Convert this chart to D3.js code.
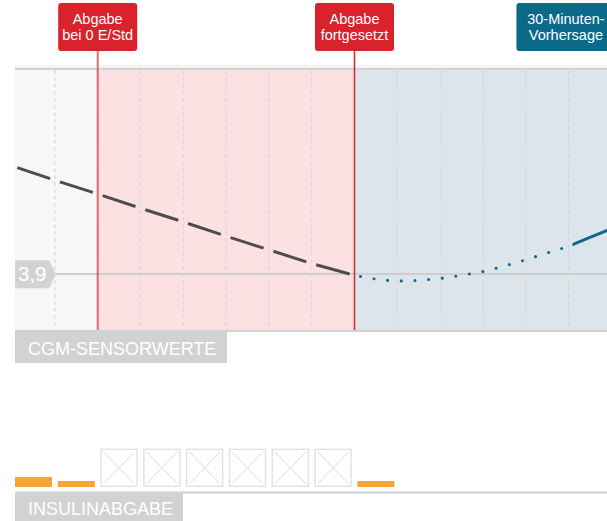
<!DOCTYPE html>
<html><head><meta charset="utf-8">
<script src="https://cdn.jsdelivr.net/npm/d3@7"></script>
<style>
body{margin:0;background:#fff}
svg{display:block}
text{font-family:"Liberation Sans",Arial,Helvetica,sans-serif}
</style></head>
<body><svg id="c" width="607" height="521"></svg>
<script>
// ---- data ----
const gridTimes = [-5, 0, 5, 10, 15, 20, 25, 30, 35, 40, 45, 50, 55];
const cgmTimes = [-10, -5, 0, 5, 10, 15, 20, 25, 30];
const cgmValues = [5.64, 5.41, 5.19, 4.96, 4.74, 4.51, 4.29, 4.07, 3.88];
const forecastTimes = [30, 32.5, 35, 37.5, 40, 42.5, 45, 47.5, 50, 52.5, 55, 57.5, 60];
const forecastValues = [3.88, 3.82, 3.79, 3.80, 3.83, 3.88, 3.94, 4.03, 4.13, 4.24, 4.35, 4.49, 4.63];
const thresholdValue = 3.9;
const thresholdLabel = "3,9";
const zoneBounds = [-10, 0, 30, 60];           // history | suspended | forecast
const eventTimes = [0, 30];
const eventLabels = [["Abgabe", "bei 0 E/Std"], ["Abgabe", "fortgesetzt"]];
const forecastLabel = ["30-Minuten-", "Vorhersage"];
const forecastLabelTime = 54.7;
const insulinStarts = [-10, -5, 0, 5, 10, 15, 20, 25, 30];
const insulinRates = [0.5, 0.3, null, null, null, null, null, null, 0.3]; // null = suspended
const cgmTitle = "CGM-SENSORWERTE";
const insulinTitle = "INSULINABGABE";

// ---- layout ----
const W = 607, H = 521;
const chartLeft = 15, chartTop = 70, chartBottom = 330;
const x = d3.scaleLinear().domain([-10, 60]).range([12.1, 611.3]);
const y = d3.scaleLinear().domain([3, 7.2]).range([chartBottom, 69]);
const ins = d3.scaleLinear().domain([0, 1]).range([0, 20]);
const RED = "#d9222b", BLUE = "#0b6a8a";

const svg = d3.select("#c");
const defs = svg.append("defs");
defs.append("clipPath").attr("id", "chart").append("rect")
  .attr("x", chartLeft).attr("y", chartTop).attr("width", W - chartLeft).attr("height", chartBottom - chartTop);
defs.append("clipPath").attr("id", "dotted").append("rect")
  .attr("x", chartLeft).attr("y", chartTop).attr("width", 567 - chartLeft).attr("height", chartBottom - chartTop);
defs.append("clipPath").attr("id", "solid").append("rect")
  .attr("x", 572.5).attr("y", chartTop).attr("width", W - 572.5).attr("height", chartBottom - chartTop);

// backgrounds
const zoneFills = ["#f7f7f7", "#fde1e2", "#dce5eb"];
const g = svg.append("g").attr("clip-path", "url(#chart)");
g.selectAll("rect.zone").data(d3.range(zoneBounds.length - 1)).join("rect")
  .attr("class", "zone")
  .attr("x", i => x(zoneBounds[i])).attr("y", chartTop)
  .attr("width", i => x(zoneBounds[i + 1]) - x(zoneBounds[i]))
  .attr("height", chartBottom - chartTop)
  .attr("fill", i => zoneFills[i]);

// grid
g.selectAll("line.grid").data(gridTimes).join("line")
  .attr("x1", d => x(d)).attr("x2", d => x(d))
  .attr("y1", chartTop).attr("y2", chartBottom)
  .attr("stroke", "#d4d4d4").attr("stroke-width", 1).attr("stroke-dasharray", "4,3");

// top / bottom borders
svg.append("rect").attr("x", chartLeft).attr("y", 65).attr("width", W - chartLeft).attr("height", 3).attr("fill", "#f4f4f4");
svg.append("line").attr("x1", chartLeft).attr("x2", W).attr("y1", 69).attr("y2", 69)
  .attr("stroke", "#d2d2d2").attr("stroke-width", 2);
svg.append("line").attr("x1", chartLeft).attr("x2", W).attr("y1", 331).attr("y2", 331)
  .attr("stroke", "#d2d2d2").attr("stroke-width", 2);

// threshold
const ty = y(thresholdValue);
svg.append("line").attr("x1", 56).attr("x2", W).attr("y1", ty).attr("y2", ty)
  .attr("stroke", "#cecece").attr("stroke-width", 2);
svg.append("path")
  .attr("d", `M${chartLeft},${ty - 13.7}H49L56,${ty}L49,${ty + 14.3}H${chartLeft}Z`)
  .attr("fill", "#d3d3d3");
svg.append("text").attr("x", 18).attr("y", ty + 6.5).text(thresholdLabel)
  .attr("fill", "#fff").attr("font-size", 20.5);

// event lines
svg.selectAll("line.ev").data(eventTimes).join("line")
  .attr("x1", d => x(d)).attr("x2", d => x(d)).attr("y1", 51).attr("y2", chartBottom)
  .attr("stroke", RED).attr("stroke-width", (d, i) => i === 0 ? 2 : 1.6)
  .attr("stroke-opacity", (d, i) => i === 0 ? 0.65 : 0.95);

// CGM line
const cgmLine = d3.line().x(d => x(d[0])).y(d => y(d[1]));
svg.append("path").attr("clip-path", "url(#chart)")
  .attr("d", cgmLine(d3.zip(cgmTimes, cgmValues)))
  .attr("fill", "none").attr("stroke", "#4d4d4d").attr("stroke-width", 3)
  .attr("stroke-dasharray", "34.6,10.3").attr("stroke-dashoffset", 39.4);

// forecast
const fLine = d3.line().curve(d3.curveMonotoneX).x(d => x(d[0])).y(d => y(d[1]));
const fData = d3.zip(forecastTimes, forecastValues);
svg.append("path").attr("clip-path", "url(#dotted)")
  .attr("d", fLine(fData)).attr("fill", "none").attr("stroke", BLUE)
  .attr("stroke-width", 3.1).attr("stroke-linecap", "round")
  .attr("stroke-dasharray", "0,13.7").attr("stroke-dashoffset", 7.6);
svg.append("path").attr("clip-path", "url(#solid)")
  .attr("d", fLine(fData)).attr("fill", "none").attr("stroke", BLUE)
  .attr("stroke-width", 3);

// label boxes
function labelBox(cx, w, lines, fill) {
  svg.append("rect").attr("x", cx - w / 2).attr("y", 3).attr("width", w).attr("height", 48)
    .attr("rx", 3).attr("fill", fill);
  svg.append("text").attr("x", cx).attr("text-anchor", "middle").attr("fill", "#fff")
    .attr("font-size", 14.5)
    .selectAll("tspan").data(lines).join("tspan")
    .attr("x", cx).attr("y", (d, i) => 24 + i * 15.5).text(d => d);
}
eventTimes.forEach((t, i) => labelBox(x(t), 79, eventLabels[i], RED));
labelBox(x(forecastLabelTime), 99, forecastLabel, BLUE);

// section titles
svg.append("rect").attr("x", chartLeft).attr("y", 330).attr("width", 212).attr("height", 33).attr("fill", "#d1d2d4");
svg.append("text").attr("x", 28).attr("y", 354.5).text(cgmTitle).attr("fill", "#fff").attr("font-size", 18);

// insulin
const baseY = 487;
svg.append("line").attr("x1", chartLeft).attr("x2", W).attr("y1", 492.5).attr("y2", 492.5)
  .attr("stroke", "#d2d2d2").attr("stroke-width", 2);
svg.append("rect").attr("x", chartLeft).attr("y", 492).attr("width", 168).attr("height", 30).attr("fill", "#d1d2d4");
svg.append("text").attr("x", 28).attr("y", 515).text(insulinTitle).attr("fill", "#fff").attr("font-size", 18);

const cellW = d => x(d + 5) - x(d);
const insData = d3.zip(insulinStarts, insulinRates);
svg.selectAll("rect.bar").data(insData.filter(d => d[1] !== null)).join("rect")
  .attr("x", d => x(d[0]) + 2.9).attr("width", d => cellW(d[0]) - 5.8)
  .attr("y", d => baseY - ins(d[1])).attr("height", d => ins(d[1]))
  .attr("fill", "#f9a533");
const boxes = svg.selectAll("g.box").data(insData.filter(d => d[1] === null)).join("g")
  .attr("transform", d => `translate(${x(d[0]) + 3.4},449.3)`);
boxes.append("rect").attr("width", d => cellW(d[0]) - 6.8).attr("height", 37)
  .attr("fill", "#fff").attr("stroke", "#e2e2e2").attr("stroke-width", 1.4);
boxes.append("path").attr("d", d => { const w = cellW(d[0]) - 6.8; return `M2.5,2.5L${w - 2.5},34.5M${w - 2.5},2.5L2.5,34.5`; })
  .attr("stroke", "#dcdcdc").attr("stroke-width", 1).attr("fill", "none");
</script></body></html>
